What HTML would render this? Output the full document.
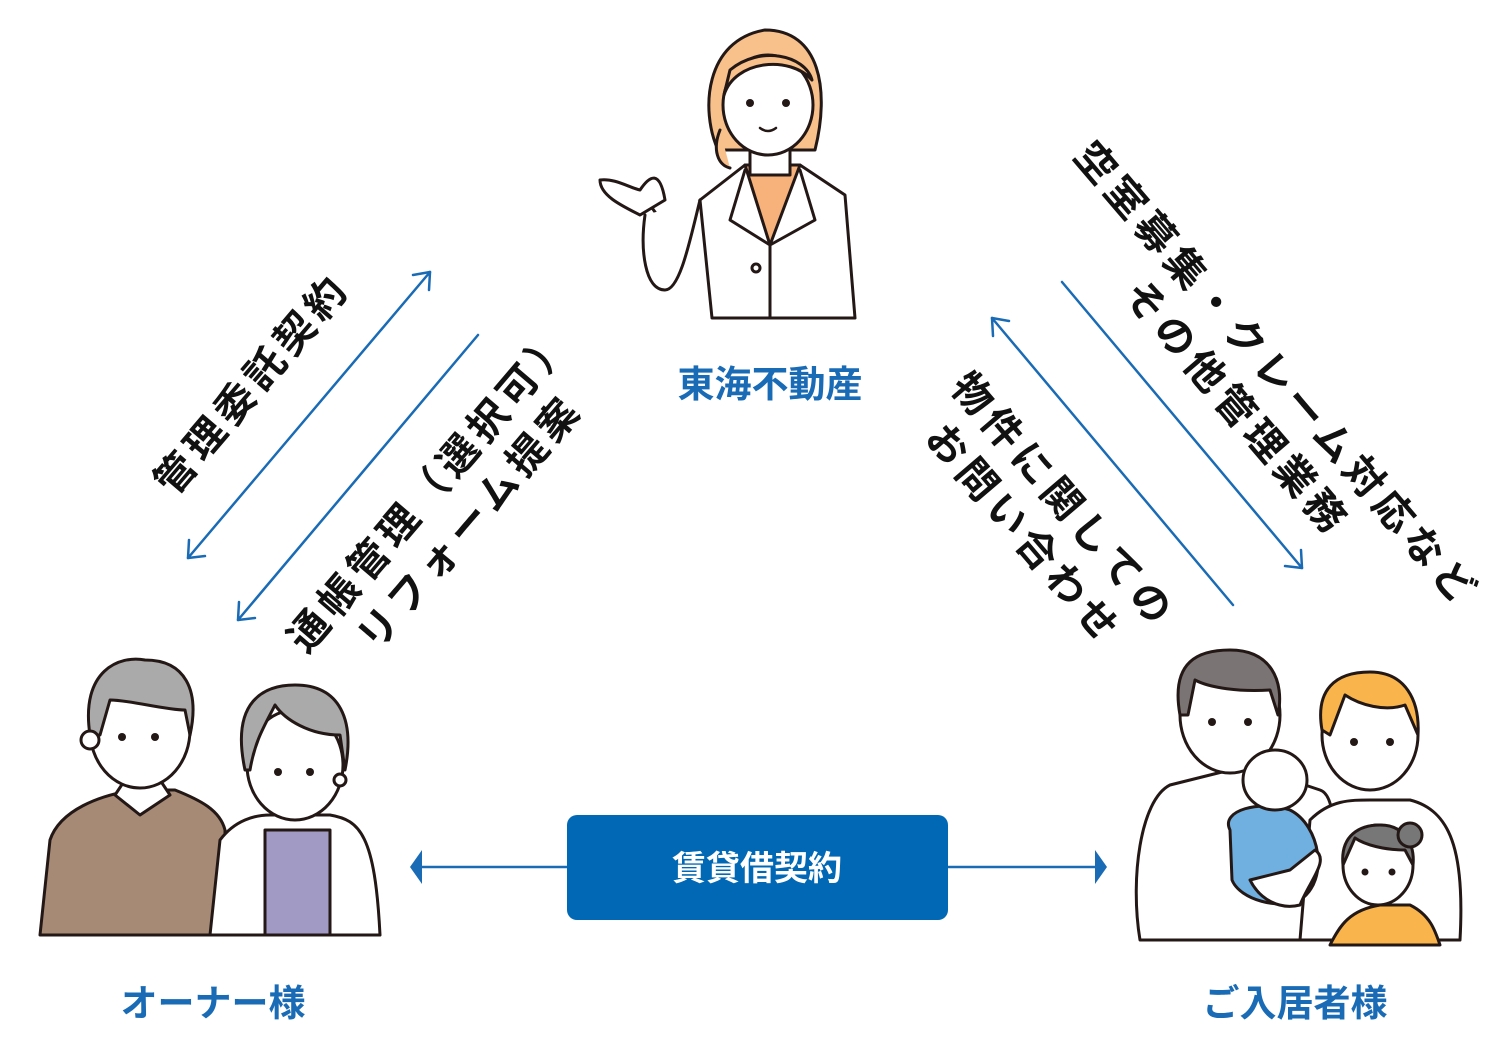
<!DOCTYPE html>
<html><head><meta charset="utf-8"><style>
html,body{margin:0;padding:0;background:#fff;}
body{width:1500px;height:1039px;position:relative;overflow:hidden;font-family:"Liberation Sans","Noto Sans CJK JP",sans-serif;}
.t{position:absolute;white-space:nowrap;font-weight:bold;text-align:center;color:#111;}
.lbl{position:absolute;color:#1a6bb5;font-weight:bold;font-size:37px;white-space:nowrap;transform:translateX(-50%);}
</style></head><body>
<svg width="1500" height="1039" style="position:absolute;left:0;top:0" stroke-linecap="round" stroke-linejoin="round">
<g stroke="#1a6bb5" stroke-width="2.5" fill="none">
<line x1="430" y1="272" x2="188" y2="558"/>
<polyline points="413,275 430,272 429,290"/>
<polyline points="189,540 188,558 205,556"/>
<line x1="478" y1="335" x2="238" y2="620"/>
<polyline points="239,602 238,620 255,618"/>
<line x1="1062" y1="282" x2="1302" y2="568"/>
<polyline points="1285,566 1302,568 1301,550"/>
<line x1="992" y1="318" x2="1233" y2="605"/>
<polyline points="993,336 992,318 1009,321"/>
<line x1="420" y1="867" x2="567" y2="867"/>
<line x1="948" y1="867" x2="1100" y2="867"/>
</g>
<polygon points="410,867 422,850 422,884" fill="#1a6bb5"/>
<polygon points="1107,867 1095,850 1095,884" fill="#1a6bb5"/>
<rect x="567" y="815" width="381" height="105" rx="10" fill="#0068b4"/>
<text x="757" y="880" text-anchor="middle" fill="#fff" font-size="34" font-weight="bold" font-family="Liberation Sans, Noto Sans CJK JP, sans-serif">賃貸借契約</text>

<!-- staff woman -->
<g stroke="#231815" stroke-width="3">
<path d="M718,150 C700,110 705,40 765,30 C820,30 830,90 815,150 Z" fill="#f8c08a"/>
<path d="M720,130 C712,150 718,165 730,168" fill="#f8c08a"/>
<path d="M712,318 L700,200 L745,165 L800,165 L845,195 L855,318 Z" fill="#fff"/>
<path d="M745,165 L770,245 L800,165 Z" fill="#f6b27a"/>
<path d="M750,150 L750,175 L790,175 L790,150" fill="#fff"/>
<ellipse cx="768" cy="105" rx="45" ry="50" fill="#fff"/>
<path d="M724,95 C735,60 790,55 812,80 C805,55 760,45 730,70 Z" fill="#f8c08a"/>
<path d="M745,170 L730,220 L770,245 M800,170 L815,220 L770,245 M770,245 L770,318" fill="none"/>
<path d="M700,200 L675,240 L650,205" fill="none"/>
<path d="M700,200 C690,240 680,290 665,290 C645,290 640,250 645,215" fill="#fff"/>
<path d="M640,215 C620,205 600,195 600,180 C615,178 630,188 640,190 C650,175 660,170 665,200 Z" fill="#fff"/>
<circle cx="756" cy="268" r="4" fill="none"/>
</g>
<g fill="#231815"><circle cx="750" cy="103" r="4"/><circle cx="786" cy="103" r="4"/></g>
<path d="M760,128 Q768,134 776,128" stroke="#231815" stroke-width="2.5" fill="none"/>

<!-- elderly couple -->
<g stroke="#231815" stroke-width="3">
<path d="M40,935 L50,840 C60,810 100,795 135,790 L175,790 C200,800 220,810 225,830 L225,935 Z" fill="#a68a76"/>
<path d="M115,795 L140,815 L170,795 L160,780 L125,780 Z" fill="#fff"/>
<ellipse cx="140" cy="730" rx="50" ry="58" fill="#fff"/>
<path d="M90,735 C80,670 120,655 145,660 C185,660 200,690 190,735 L185,710 C165,710 130,700 110,700 L100,735 Z" fill="#aaa"/>
<circle cx="90" cy="740" r="9" fill="#fff"/>
<path d="M210,935 L220,840 C235,820 255,815 270,815 L330,815 C360,820 375,835 380,935 Z" fill="#fff"/>
<path d="M265,830 L265,935 L330,935 L330,830 Z" fill="#a09ac4"/>
<ellipse cx="295" cy="765" rx="48" ry="55" fill="#fff"/>
<path d="M245,770 C230,700 265,685 295,685 C340,685 355,720 345,770 L340,735 C310,735 285,720 275,705 C265,725 255,740 250,770 Z" fill="#aaa"/>
<circle cx="340" cy="780" r="6" fill="#fff"/>
</g>
<g fill="#231815"><circle cx="122" cy="737" r="4"/><circle cx="155" cy="737" r="4"/><circle cx="278" cy="772" r="4"/><circle cx="310" cy="772" r="4"/></g>

<!-- family -->
<g stroke="#231815" stroke-width="3">
<path d="M1140,940 C1130,880 1140,800 1170,785 L1230,770 L1260,770 L1320,790 C1350,800 1320,940 1320,940 Z" fill="#fff"/>
<ellipse cx="1230" cy="715" rx="50" ry="58" fill="#fff"/>
<path d="M1180,715 C1170,660 1200,650 1230,650 C1270,650 1285,680 1278,715 L1270,690 C1240,692 1210,688 1195,680 L1188,715 Z" fill="#7a7574"/>
<path d="M1300,940 L1310,820 C1330,800 1350,800 1370,800 L1410,800 C1450,810 1465,850 1460,940 Z" fill="#fff"/>
<ellipse cx="1370" cy="735" rx="48" ry="55" fill="#fff"/>
<path d="M1322,730 C1315,690 1335,672 1370,672 C1405,672 1420,700 1418,735 L1405,705 C1385,712 1360,705 1345,695 L1330,735 Z" fill="#f9b54b"/>
<path d="M1330,945 C1340,925 1350,910 1380,905 L1410,905 C1430,915 1435,930 1440,945 Z" fill="#f9b54b"/>
<ellipse cx="1378" cy="865" rx="35" ry="40" fill="#fff"/>
<path d="M1343,865 C1340,835 1360,825 1380,825 C1405,825 1415,845 1413,865 L1405,850 C1385,850 1365,845 1355,838 Z" fill="#777"/>
<circle cx="1410" cy="835" r="12" fill="#777"/>
<path d="M1230,830 C1220,810 1260,800 1290,810 C1320,825 1330,880 1300,900 C1280,910 1240,900 1232,880 Z" fill="#6fb0e0"/>
<ellipse cx="1275" cy="780" rx="32" ry="30" fill="#fff"/>
<path d="M1250,880 C1260,900 1280,910 1300,905 C1310,880 1330,860 1315,850 L1290,870 Z" fill="#fff"/>
</g>
<g fill="#231815"><circle cx="1212" cy="722" r="4"/><circle cx="1248" cy="722" r="4"/><circle cx="1354" cy="742" r="4"/><circle cx="1390" cy="742" r="4"/><circle cx="1365" cy="872" r="3.5"/><circle cx="1392" cy="872" r="3.5"/></g>
</svg>

<div class="lbl" style="left:770px;top:354px;">東海不動産</div>
<div class="lbl" style="left:213px;top:973px;">オーナー様</div>
<div class="lbl" style="left:1295px;top:973px;">ご入居者様</div>

<div class="t" style="left:250px;top:382px;font-size:40px;letter-spacing:6px;transform:translate(-50%,-50%) rotate(-49.5deg);">管理委託契約</div>
<div class="t" style="left:451px;top:506px;font-size:40px;line-height:52px;letter-spacing:6px;transform:translate(-50%,-50%) rotate(-49.5deg);">通帳管理（選択可）<br>リフォーム提案</div>
<div class="t" style="left:1256px;top:392px;font-size:40px;line-height:52px;letter-spacing:6px;transform:translate(-50%,-50%) rotate(49.5deg);">空室募集・クレーム対応など<br>その他管理業務</div>
<div class="t" style="left:1043px;top:518px;font-size:40px;line-height:52px;letter-spacing:6px;transform:translate(-50%,-50%) rotate(49.5deg);">物件に関しての<br>お問い合わせ</div>
</body></html>
